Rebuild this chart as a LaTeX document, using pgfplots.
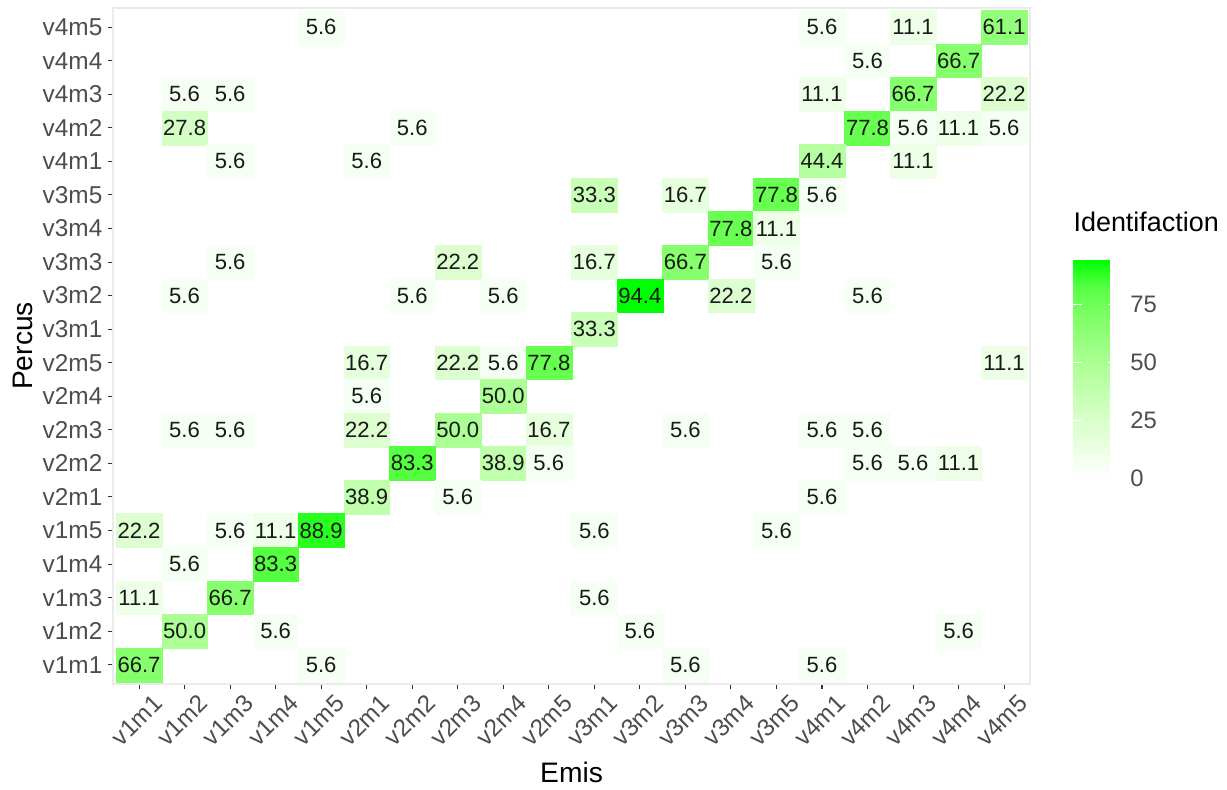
\documentclass[border=0pt]{standalone}
\usepackage{pgfplots}
\pgfplotsset{compat=1.18}
\usepackage{pgfplotstable}
\usepackage{fontspec}
\setmainfont{Liberation Sans}

\definecolor{gray30}{HTML}{4D4D4D}
\definecolor{gray20}{HTML}{333333}
\definecolor{panelgrey}{HTML}{EBEBEB}

\pgfplotsset{/pgf/number format/assume math mode=true}

% x = Emis (0 = v1m1 ... 19 = v4m5), y = Percus, c = identification (%)
\pgfplotstableread{
x y c
4 19 5.6
15 19 5.6
17 19 11.1
19 19 61.1
16 18 5.6
18 18 66.7
1 17 5.6
2 17 5.6
15 17 11.1
17 17 66.7
19 17 22.2
1 16 27.8
6 16 5.6
16 16 77.8
17 16 5.6
18 16 11.1
19 16 5.6
2 15 5.6
5 15 5.6
15 15 44.4
17 15 11.1
10 14 33.3
12 14 16.7
14 14 77.8
15 14 5.6
13 13 77.8
14 13 11.1
2 12 5.6
7 12 22.2
10 12 16.7
12 12 66.7
14 12 5.6
1 11 5.6
6 11 5.6
8 11 5.6
11 11 94.4
13 11 22.2
16 11 5.6
10 10 33.3
5 9 16.7
7 9 22.2
8 9 5.6
9 9 77.8
19 9 11.1
5 8 5.6
8 8 50.0
1 7 5.6
2 7 5.6
5 7 22.2
7 7 50.0
9 7 16.7
12 7 5.6
15 7 5.6
16 7 5.6
6 6 83.3
8 6 38.9
9 6 5.6
16 6 5.6
17 6 5.6
18 6 11.1
5 5 38.9
7 5 5.6
15 5 5.6
0 4 22.2
2 4 5.6
3 4 11.1
4 4 88.9
10 4 5.6
14 4 5.6
1 3 5.6
3 3 83.3
0 2 11.1
2 2 66.7
10 2 5.6
1 1 50.0
3 1 5.6
11 1 5.6
18 1 5.6
0 0 66.7
4 0 5.6
12 0 5.6
15 0 5.6
}\cells

\begin{document}
\begin{tikzpicture}
\begin{axis}[
  scale only axis,
  width=357.6pt, height=263.6pt,
  xmin=-0.57, xmax=19.57, ymin=-0.57, ymax=19.57,
  xtick={0,...,19}, ytick={0,...,19},
  xticklabels={v1m1,v1m2,v1m3,v1m4,v1m5,v2m1,v2m2,v2m3,v2m4,v2m5,v3m1,v3m2,v3m3,v3m4,v3m5,v4m1,v4m2,v4m3,v4m4,v4m5},
  yticklabels={v1m1,v1m2,v1m3,v1m4,v1m5,v2m1,v2m2,v2m3,v2m4,v2m5,v3m1,v3m2,v3m3,v3m4,v3m5,v4m1,v4m2,v4m3,v4m4,v4m5},
  tick label style={font=\fontsize{9.5}{11}\selectfont, text=gray30},
  x tick label style={xshift=5pt, rotate=45, anchor=north east, inner sep=1pt},
  y tick label style={inner sep=2pt},
  tick align=outside, xtick pos=bottom, ytick pos=left,
  major tick length=2pt,
  tick style={gray20, line width=0.4pt},
  axis line style={panelgrey, line width=1pt},
  xlabel={Emis}, ylabel={Percus},
  label style={font=\fontsize{11}{13}\selectfont, inner sep=0pt},
  xlabel style={at={(axis description cs:0.5,-0.1464)}, anchor=base},
  ylabel style={at={(axis description cs:-0.0884,0.5)}, anchor=base},
  colormap={wg}{rgb255(0cm)=(255,255,255) rgb255(2cm)=(219,255,205) rgb255(4cm)=(177,255,154) rgb255(6cm)=(125,255,100) rgb255(7cm)=(88,255,67) rgb255(8cm)=(0,255,0)},
  point meta min=0, point meta max=94.4,
  colorbar,
  colorbar style={
    scale only axis,
    at={(1.0469,0.3047)}, anchor=south west,
    width=16.8pt, height=85pt,
    ytick={0,25,50,75},
    axis line style={draw=none},
    tick align=inside, ytick pos=both, yticklabel pos=right,
    major tick length=3.3pt,
    tick style={white, line width=0.5pt},
    yticklabel style={font=\fontsize{9.3}{11}\selectfont, text=gray30, inner sep=0pt, xshift=5.3pt},
    title={Identifaction},
    title style={font=\fontsize{10.5}{12}\selectfont, anchor=base west, at={(0,1)}, inner sep=0pt, yshift=5pt},
  },
]
% tiles
\addplot[
  scatter, only marks, mark=square*, mark size=6.6pt,
  mark options={xscale=1.355, line width=0.1pt},
  scatter/use mapped color={draw=mapped color, fill=mapped color},
  point meta=explicit,
] table[x=x, y=y, meta=c] {\cells};
% cell labels
\addplot[
  only marks, mark=none, point meta=explicit,
  nodes near coords={\pgfmathprintnumber[fixed, precision=1, fixed zerofill]{\pgfplotspointmeta}},
  nodes near coords style={anchor=center, text=black!90, font=\fontsize{8.6}{9}\selectfont, inner sep=0pt},
] table[x=x, y=y, meta=c] {\cells};
\end{axis}
% page margins as in the reference
\path ([xshift=-44.1pt, yshift=-41pt]current axis.south west)
  rectangle ([xshift=76.8pt, yshift=3.1pt]current axis.north east);
\end{tikzpicture}
\end{document}
